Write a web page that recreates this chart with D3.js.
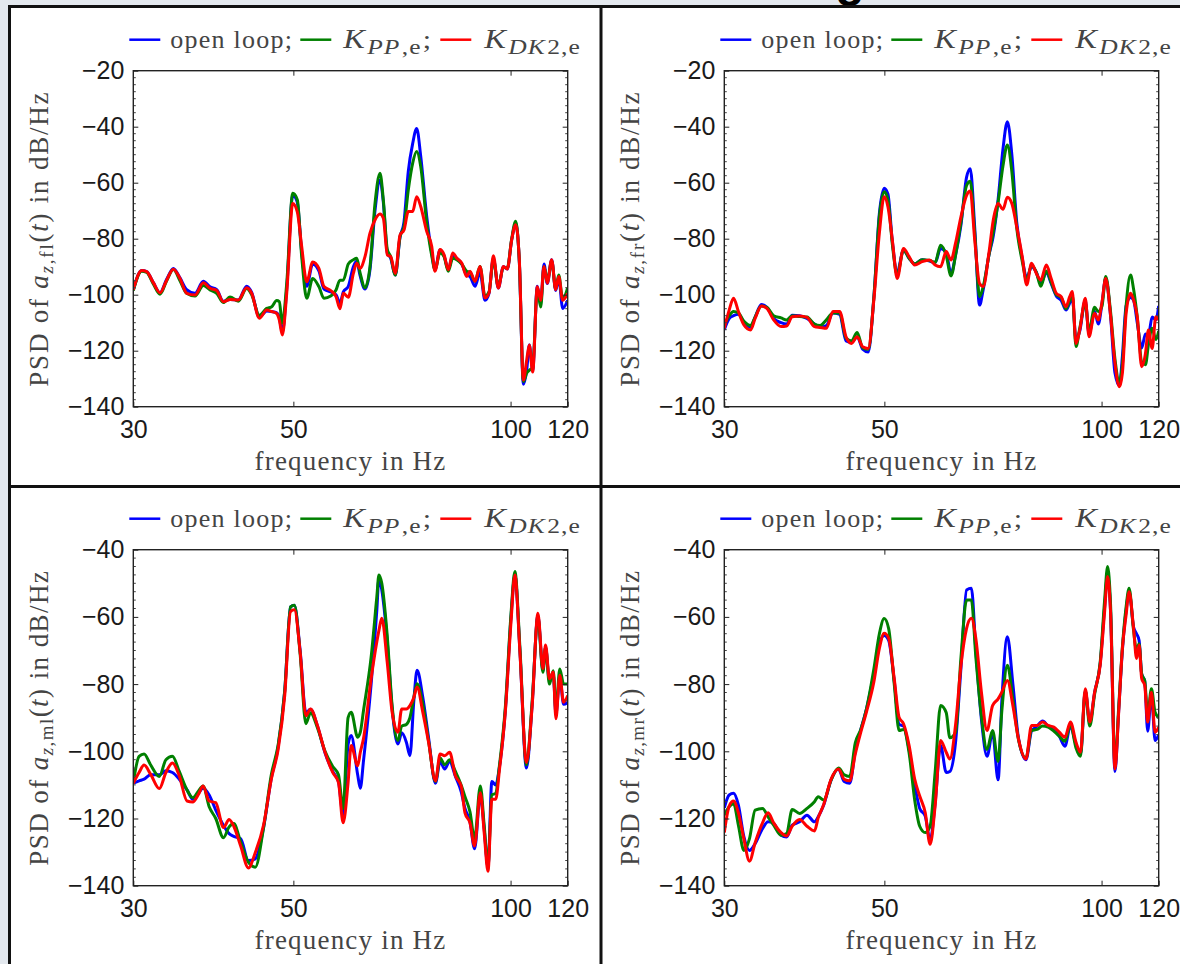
<!DOCTYPE html>
<meta charset="utf-8">
<head>
<style>
 body { margin: 0; background: #e3e8ee; overflow: hidden; }
 svg { display: block; }
 .serif { font-family: "Liberation Serif", "Times New Roman", serif; fill: #444; }
 .ticklab { font-family: "Liberation Sans", Arial, sans-serif; font-size: 25px; fill: #1a1a1a; }
</style>
</head>
<body>
<script src="https://d3js.org/d3.v7.min.js"></script>
<script>
 // ---- data (frequency in Hz, PSD in dB/Hz) ----
 // panel a_z,fl (top left)
 const fTL = [30.0, 30.81, 31.31, 31.98, 32.67, 33.37, 34.09, 34.82, 35.57, 36.53,
     37.51, 38.32, 39.15, 39.98, 40.85, 41.94, 43.08, 43.77, 44.85, 45.92,
     46.66, 47.41, 47.8, 48.26, 48.95, 49.9, 50.63, 51.35, 52.18, 53.18,
     54.24, 55.13, 56.33, 57.29, 58.02, 58.64, 59.58, 60.55, 61.2, 61.84,
     62.84, 63.85, 64.88, 65.92, 66.63, 67.48, 68.21, 69.22, 70.27, 71.17,
     72.15, 73.17, 74.11, 75.07, 76.52, 77.75, 78.57, 79.84, 80.86, 81.98,
     83.14, 84.2, 85.56, 86.94, 87.86, 89.27, 90.71, 92.17, 93.35, 94.66,
     96.16, 97.73, 98.96, 100.36, 101.65, 102.83, 104.17, 105.28, 106.16, 107.32,
     108.9, 110.09, 111.26, 112.43, 114.02, 115.49, 116.6, 118.1, 120];
 const olTL = [-98.3, -91.4, -91.8, -95.7, -99.3, -94.5, -90.6, -94.0, -98.2, -99.5,
     -95.2, -97.2, -98.2, -102.3, -101.7, -101.9, -97.0, -99.2, -108.0, -105.8,
     -106.0, -106.5, -108.0, -113.5, -98.0, -64.5, -67.0, -85.0, -97.0, -89.0,
     -91.5, -98.0, -99.0, -100.0, -103.0, -99.0, -97.0, -90.0, -88.0, -93.0,
     -98.0, -91.0, -70.0, -59.0, -67.0, -85.0, -87.0, -93.0, -79.5, -74.0,
     -56.0, -46.0, -40.6, -50.5, -72.0, -85.0, -91.0, -84.0, -86.0, -91.0,
     -86.0, -87.0, -89.0, -93.0, -93.5, -97.0, -92.0, -102.0, -99.5, -87.0,
     -97.6, -90.0, -90.8, -80.4, -74.5, -88.0, -132.0, -127.0, -118.0, -127.0,
     -97.0, -103.0, -89.0, -96.0, -87.5, -98.5, -94.0, -104.9, -102.0];
 const ppTL = [-98.5, -91.6, -92.0, -96.2, -99.8, -95.0, -91.0, -95.0, -99.5, -100.5,
     -96.7, -98.3, -99.5, -102.8, -100.8, -102.3, -97.8, -100.0, -107.3, -104.9,
     -104.3, -102.1, -102.5, -110.2, -96.0, -63.8, -66.1, -86.4, -101.3, -94.2,
     -97.1, -101.3, -100.5, -98.3, -94.8, -94.8, -89.0, -87.5, -87.0, -92.0,
     -97.5, -90.0, -67.4, -56.6, -66.2, -83.9, -86.4, -93.0, -79.3, -75.7,
     -62.6, -53.0, -48.9, -54.2, -74.3, -86.0, -91.2, -85.0, -86.4, -91.6,
     -87.0, -87.5, -89.0, -91.6, -92.0, -95.2, -89.9, -100.5, -99.0, -87.5,
     -97.0, -90.2, -90.5, -80.0, -73.8, -88.0, -131.0, -128.0, -127.0, -126.0,
     -98.0, -104.4, -90.0, -95.0, -88.0, -98.0, -93.0, -101.5, -97.5];
 const dkTL = [-98.3, -91.4, -91.8, -95.7, -99.3, -94.8, -90.9, -94.2, -99.5, -100.1,
     -95.7, -97.7, -98.5, -102.5, -101.7, -101.9, -97.5, -99.5, -108.4, -105.5,
     -106.0, -106.7, -109.0, -114.4, -99.5, -67.4, -70.4, -82.9, -95.4, -88.3,
     -90.6, -97.1, -98.5, -100.7, -105.0, -99.5, -100.9, -92.4, -88.8, -90.6,
     -86.4, -78.0, -73.3, -71.2, -72.7, -85.8, -86.4, -92.4, -78.7, -76.9,
     -70.3, -70.3, -65.0, -68.5, -77.4, -82.7, -91.6, -83.9, -85.7, -91.1,
     -85.1, -86.9, -88.7, -93.5, -91.6, -95.2, -89.9, -101.2, -99.4, -86.1,
     -97.6, -89.9, -90.8, -80.4, -75.0, -87.5, -130.5, -123.3, -118.0, -127.6,
     -97.2, -102.0, -89.9, -95.9, -87.5, -98.2, -93.5, -102.0, -99.5];

 // panel a_z,fr (top right)
 const fTR = [30.0, 30.47, 30.9, 31.38, 31.94, 32.63, 33.1, 33.77, 34.37, 35.12,
     35.96, 36.6, 37.26, 38.15, 39.06, 40.0, 40.72, 41.55, 42.44, 43.35,
     44.24, 45.03, 45.84, 46.66, 47.49, 48.35, 49.21, 49.97, 50.57, 51.29,
     52.09, 53.15, 54.11, 55.08, 56.4, 57.75, 58.79, 59.83, 60.91, 61.85,
     62.74, 63.85, 65.0, 65.77, 66.71, 67.75, 68.56, 69.79, 70.78, 71.88,
     73.0, 74.04, 75.1, 76.27, 77.63, 78.75, 79.97, 81.21, 82.36, 83.84,
     85.14, 86.56, 87.9, 89.27, 90.33, 91.09, 92.17, 93.27, 94.94, 96.07,
     97.8, 98.96, 100.15, 101.34, 102.9, 104.37, 105.86, 106.87, 108.15, 109.7,
     110.75, 112.06, 113.66, 115.03, 116.12, 117.51, 118.91, 120];
 const olTR = [-112.5, -108.5, -107.5, -107, -110, -111.5, -108, -103.5, -104.5, -108.5,
     -110, -110.5, -107.3, -107.5, -108.5, -110.5, -111.5, -111, -106.5, -107,
     -116.5, -117, -115, -119.5, -120.5, -101, -71, -62, -64, -81,
     -92, -84, -87, -89, -87.5, -88, -88.5, -83.5, -85, -92.5,
     -86, -75, -58, -55, -76, -103.7, -98, -86, -79, -66,
     -48, -38.2, -50, -74, -87, -94, -90, -92, -96, -92,
     -96, -100.5, -102, -105.5, -103, -101, -116, -113, -102, -114,
     -106, -110.5, -103, -94, -107.5, -128, -132.5, -122, -104, -101,
     -102, -110, -119, -114, -114.5, -108, -109, -104];
 const ppTR = [-111, -107.5, -106, -106.5, -109.5, -111, -108, -104, -104.5, -107.5,
     -108.3, -109, -107.5, -107.8, -108, -110.5, -111, -109, -106.5, -106.5,
     -115.5, -116.5, -113.5, -119, -119.5, -101, -72, -63.2, -66, -82,
     -93, -84, -87, -89, -87.5, -87.8, -88.5, -82.3, -86, -93.3,
     -86, -74, -61, -59.5, -78, -100.7, -97, -86, -77.5, -67,
     -54, -46.5, -56, -76, -88, -94.8, -89.5, -92, -97, -91.5,
     -95.5, -100, -101, -105, -102, -100, -118.5, -112, -103, -113,
     -104.5, -106, -104, -93.5, -106, -123, -131, -125, -104, -93,
     -98, -108, -124, -125, -118, -112, -116, -113];
 const dkTR = [-112, -105.5, -101.3, -106, -110.8, -112.6, -108.5, -104, -104.9, -109,
     -111.4, -111.2, -107.9, -107.6, -108.1, -111.4, -111.7, -112, -106, -106,
     -115, -117.4, -115, -118.6, -119.2, -101.9, -78, -65, -68.6, -80.5,
     -94.2, -83.5, -86.4, -89.4, -88.2, -87.6, -89.4, -90, -84.6, -87.6,
     -81.7, -72.1, -64.5, -63, -80.5, -96, -97.1, -85.2, -73.3, -67.4,
     -69.5, -65.2, -67.4, -75.7, -86.4, -96.5, -88.8, -92.4, -94.8, -89.4,
     -94.2, -99.5, -100.7, -104.3, -100.7, -98.9, -117.4, -112.6, -101.3, -115,
     -106.7, -109, -102.5, -94.2, -107.3, -124.5, -132.9, -128, -106.7, -99.5,
     -101.9, -107.9, -125.7, -121, -112.6, -119.2, -107.9, -109];

 // panel a_z,ml (bottom left)
 const fBL = [30.0, 30.56, 31.05, 31.7, 32.6, 33.29, 33.99, 34.74, 35.61, 36.27,
     36.94, 37.48, 38.22, 39.03, 40.0, 40.73, 41.34, 42.26, 43.31, 44.27,
     45.48, 46.6, 47.64, 48.64, 49.55, 50.16, 51.09, 52.04, 52.81, 53.99,
     55.32, 56.69, 57.74, 58.6, 59.54, 60.13, 61.39, 61.91, 62.53, 64.08,
     65.26, 65.7, 66.3, 67.45, 68.53, 69.8, 70.66, 71.71, 72.53, 73.44,
     74.2, 75.58, 76.98, 78.69, 79.86, 81.04, 82.32, 83.86, 85.41, 86.46,
     87.85, 89.15, 90.8, 91.92, 93.05, 94.2, 95.36, 96.54, 98.33, 100.15,
     101.39, 103.02, 105.19, 107.14, 109.12, 110.87, 111.82, 113.2, 114.59, 115.58,
     117.0, 118.45, 120];
 const olBL = [-109.5, -108.8, -108.3, -107.0, -107.0, -105.8, -106.3, -108.3, -111.5, -114.3,
     -112.5, -111.0, -113.0, -117.5, -122.0, -124.5, -125.3, -126.0, -132.5, -132.0,
     -122.5, -108.0, -98.5, -82.0, -57.0, -56.5, -70.0, -88.5, -87.5, -92.5,
     -100.5, -106.0, -109.0, -119.0, -98.0, -95.3, -107.0, -111.0, -103.0, -80.0,
     -58.0, -48.5, -52.0, -67.0, -87.4, -97.8, -94.5, -97.3, -101.3, -85.0,
     -75.9, -84.0, -96.0, -109.5, -103.0, -105.3, -103.0, -107.5, -112.0, -117.0,
     -121.0, -129.0, -113.0, -123.0, -134.5, -109.0, -110.0, -104.5, -88.0, -60.0,
     -47.5, -70.0, -105.0, -86.0, -59.5, -76.0, -69.0, -79.0, -77.0, -89.0,
     -78.0, -86.0, -85.5];
 const ppBL = [-109.3, -101.5, -100.8, -104.0, -107.5, -102.5, -101.5, -106.0, -111.5, -113.8,
     -111.8, -110.3, -116.5, -120.0, -125.7, -122.5, -121.5, -127.0, -133.0, -134.5,
     -122.5, -107.0, -98.0, -82.0, -57.0, -56.5, -71.0, -91.8, -88.5, -93.0,
     -100.0, -104.5, -107.0, -117.0, -90.0, -88.4, -95.8, -94.3, -88.0, -72.0,
     -54.0, -47.5, -50.0, -65.4, -86.5, -96.8, -92.5, -92.0, -90.0, -84.0,
     -79.9, -86.0, -97.0, -109.0, -102.0, -104.0, -102.5, -106.0, -110.0, -113.5,
     -118.0, -126.0, -110.3, -122.0, -134.0, -113.0, -112.5, -104.0, -87.0, -59.0,
     -46.5, -69.0, -104.0, -85.0, -60.0, -76.5, -69.0, -80.0, -76.0, -88.0,
     -75.5, -80.0, -80.0];
 const dkBL = [-109.5, -106.3, -104.1, -106.8, -111.1, -106.3, -103.5, -107.3, -114.8, -115.1,
     -112.8, -110.3, -114.8, -115.3, -122.7, -120.3, -122.3, -128.2, -134.7, -130.2,
     -121.8, -108.3, -99.3, -83.4, -58.4, -57.9, -70.4, -89.4, -87.4, -92.3,
     -100.3, -106.3, -109.3, -121.3, -109.3, -98.3, -104.3, -100.3, -96.3, -78.4,
     -67.4, -64.0, -60.4, -73.4, -88.4, -94.3, -87.4, -87.4, -86.4, -84.0,
     -80.9, -88.4, -97.3, -108.8, -100.8, -101.3, -100.3, -107.3, -110.3, -118.3,
     -121.3, -128.2, -112.3, -124.2, -135.7, -114.3, -114.3, -105.3, -88.4, -61.4,
     -47.5, -70.4, -103.3, -86.4, -58.9, -75.4, -68.4, -78.4, -76.4, -90.3,
     -77.4, -85.4, -83.4];

 // panel a_z,mr (bottom right)
 const fBR = [30.0, 30.47, 30.9, 31.38, 31.94, 32.51, 33.1, 33.89, 34.5, 35.12,
     35.96, 36.6, 37.26, 38.15, 39.06, 40.0, 40.48, 41.2, 42.19, 43.2,
     43.98, 44.76, 45.57, 46.38, 47.21, 48.35, 49.21, 49.97, 50.69, 51.6,
     52.41, 53.15, 54.11, 55.08, 55.97, 56.97, 57.86, 58.79, 59.83, 60.91,
     61.62, 62.74, 63.85, 65.0, 66.0, 66.95, 68.15, 69.38, 70.62, 71.88,
     72.74, 74.04, 75.35, 76.7, 78.56, 79.97, 81.41, 82.84, 84.33, 85.85,
     87.38, 88.95, 90.54, 92.17, 93.49, 94.94, 96.3, 97.8, 99.56, 100.98,
     101.94, 102.9, 104.37, 105.61, 106.87, 108.15, 109.19, 110.75, 111.81, 112.73,
     113.66, 114.76, 115.85, 117.24, 118.63, 120];
 const olBR = [-116.8, -113, -112.5, -116, -125.5, -129.5, -127.5, -123, -121, -121.5,
     -125, -125.5, -122, -121, -119, -121, -119.5, -116, -108.5, -105.3,
     -109, -109.5, -100, -93.5, -87.5, -77, -68, -65.5, -67, -79,
     -92, -92.5, -99.5, -110, -117, -119.3, -126.5, -115.5, -98.3, -106.3,
     -106, -97.5, -75, -52, -51.5, -70, -90.5, -101.5, -94.5, -108.5,
     -85, -65.9, -80, -96, -102.5, -94, -92.5, -91, -92.5, -93.5,
     -95.5, -98.5, -92.5, -98, -101, -82, -91.5, -82.5, -74, -57,
     -47.5, -58, -106, -88, -70, -58, -52.5, -63, -65, -67,
     -77, -79, -94, -83, -96.8, -95];
 const ppBR = [-119, -116.5, -115.5, -122, -129.5, -126, -117.5, -117, -119.5, -122,
     -125, -124.5, -117.3, -118.5, -117, -115, -113.5, -114.5, -108.5, -105,
     -107, -107.5, -97.5, -93.5, -87.5, -75.5, -65, -60.5, -63.5, -80,
     -93.8, -93.5, -100.5, -114.5, -122.3, -124.2, -122.3, -106.3, -86.4, -88.5,
     -96, -94.5, -72, -55, -55, -72, -89.5, -99.5, -93.8, -103,
     -88, -74.4, -84.5, -96.5, -102, -93.8, -93.5, -92.5, -92.8, -94,
     -95.5, -97, -92, -99, -101.5, -82, -92.5, -83, -73.5, -55,
     -45, -56, -104, -87, -69, -57, -51.5, -64, -70, -68,
     -77, -79, -89, -81.4, -88.4, -90];
 const dkBR = [-124.2, -116.3, -114.8, -118.3, -126.2, -132.7, -127.2, -121.3, -118.3, -121.3,
     -124.2, -125.2, -122.3, -120.3, -122.3, -123.7, -119.8, -115.8, -108.3, -105.3,
     -108.3, -108.8, -100.8, -94.3, -88.4, -79.4, -69.4, -64.9, -66.4, -78.4,
     -89.9, -91.8, -98.3, -108.3, -113.3, -118.3, -127.7, -116.3, -96.8, -100.3,
     -102.3, -92.3, -74.4, -63.4, -60.4, -66.4, -82.4, -93.8, -86.4, -84.4,
     -82.4, -78.9, -86.4, -96.3, -102.3, -92.3, -92.3, -91.3, -92.3, -92.8,
     -94.3, -95.8, -91.3, -97.3, -100.3, -81.4, -91.3, -82.4, -74.4, -58.4,
     -48.0, -58.4, -105.3, -88.4, -69.4, -59.4, -52.5, -63.4, -72.4, -68.4,
     -78.4, -80.4, -91.3, -82.4, -94.3, -92.8];

 const xTicks = [30, 50, 100, 120];
 const yTicksTop = [-20, -40, -60, -80, -100, -120, -140];
 const yTicksBottom = [-40, -60, -80, -100, -120, -140];
 const seriesColors = ["#0000ff", "#008000", "#ff0000"];

 const panels = [
     {col: 0, row: 0, sub: "fl", yTicks: yTicksTop, f: fTL, s: [olTL, ppTL, dkTL]},
     {col: 1, row: 0, sub: "fr", yTicks: yTicksTop, f: fTR, s: [olTR, ppTR, dkTR]},
     {col: 0, row: 1, sub: "ml", yTicks: yTicksBottom, f: fBL, s: [olBL, ppBL, dkBL]},
     {col: 1, row: 1, sub: "mr", yTicks: yTicksBottom, f: fBR, s: [olBR, ppBR, dkBR]}
 ];

 const W = 1180, H = 964;
 const pw = 434.4, ph = 336;

 // stretch a serif text to the width it has in the reference (its font is wider)
 function fitWidth(t, target) {
     t.style("letter-spacing", "0px");
     const n = t.text().length;
     const w = t.node().getComputedTextLength();
     t.style("letter-spacing", Math.max(0, (target - w) / n) + "px");
 }

 const svg = d3.select("body").append("svg")
               .attr("width", W)
               .attr("height", H);

 // white page behind the panel grid
 svg.append("rect").attr("x", 9.5).attr("y", 6.5)
    .attr("width", W).attr("height", H).attr("fill", "#fff");

 // bottom of the cut-off page title
 svg.append("text").attr("x", 850).attr("y", -4)
    .attr("text-anchor", "middle")
    .style("font", "bold 48px 'Liberation Sans', Arial, sans-serif")
    .text("g");

 panels.forEach((p, pi) => {
     const x0 = 133.3 + p.col * 591, y0 = 70.7 + p.row * 479;
     const g = svg.append("g").attr("transform", `translate(${x0},${y0})`);

     const x = d3.scaleLog().domain([30, 120]).range([0, pw]);
     const yd = d3.extent(p.yTicks);
     const y = d3.scaleLinear().domain(yd).range([ph, 0]);

     g.append("clipPath").attr("id", "clip" + pi)
      .append("rect").attr("width", pw).attr("height", ph);

     const line = d3.line()
                    .x((d, i) => x(p.f[i]))
                    .y(d => y(d))
                    .curve(d3.curveMonotoneX);

     p.s.forEach((vals, k) => {
         g.append("path")
          .datum(vals)
          .attr("clip-path", `url(#clip${pi})`)
          .attr("fill", "none")
          .attr("stroke", seriesColors[k])
          .attr("stroke-width", 3)
          .attr("stroke-linejoin", "round")
          .attr("d", line);
     });

     // minor y ticks
     const minor = d3.range(yd[0], yd[1], 2.5).filter(v => v % 20 !== 0);
     g.append("g").attr("stroke", "#444").attr("stroke-width", 1)
      .selectAll("path").data(minor).join("path")
      .attr("d", v => `M0,${y(v)}h2.5M${pw},${y(v)}h-2.5`);

     const fmt = d3.format("d");
     const axB = g.append("g").attr("transform", `translate(0,${ph})`)
                  .call(d3.axisBottom(x).tickValues(xTicks).tickFormat(fmt)
                          .tickSizeInner(-5).tickSizeOuter(0).tickPadding(14));
     const axT = g.append("g")
                  .call(d3.axisTop(x).tickValues(xTicks.slice(1, 3)).tickFormat("")
                          .tickSizeInner(-5).tickSizeOuter(0));
     const axL = g.append("g")
                  .call(d3.axisLeft(y).tickValues(p.yTicks).tickFormat(fmt)
                          .tickSizeInner(-5).tickSizeOuter(0).tickPadding(9));
     const axR = g.append("g").attr("transform", `translate(${pw},0)`)
                  .call(d3.axisRight(y).tickValues(p.yTicks).tickFormat("")
                          .tickSizeInner(-5).tickSizeOuter(0));
     [axB, axT, axL, axR].forEach(a => {
         a.select(".domain").remove();
         a.attr("color", "#222").attr("font-size", null).attr("font-family", null);
         a.selectAll("text").attr("class", "ticklab");
     });

     g.append("rect").attr("width", pw).attr("height", ph)
      .attr("fill", "none").attr("stroke", "#222").attr("stroke-width", 1.4);

     // x label
     const xl = g.append("text").attr("class", "serif")
                 .attr("x", pw / 2).attr("y", ph + 63)
                 .attr("text-anchor", "middle")
                 .style("font-size", "27px")
                 .text("frequency in Hz");
     fitWidth(xl, 192);

     // y label
     const yl = g.append("text").attr("class", "serif")
                 .attr("transform", `translate(-85,${ph / 2}) rotate(-90)`)
                 .attr("text-anchor", "middle")
                 .style("font-size", "27px");
     yl.append("tspan").text("PSD of ");
     yl.append("tspan").style("font-style", "italic").text("a");
     yl.append("tspan").attr("dy", 5).style("font-size", "19px").style("font-style", "italic").text("z");
     yl.append("tspan").style("font-size", "19px").text("," + p.sub);
     yl.append("tspan").attr("dy", -5).text("(");
     yl.append("tspan").style("font-style", "italic").text("t");
     yl.append("tspan").text(") in dB/Hz");
     fitWidth(yl, 296);

     // legend: sample line + label; math labels are widened a little, like the wider math font
     const ly = -31, lb = -23;
     const lg = g.append("g");
     const legendItems = [
         {ls: -4, ts: 37, tw: 123, parts: [["open loop;", 26, false, 0, 0]]},
         {ls: 167, ts: 210, tw: 89, parts: [["K", 28, true, 0, 0], ["PP", 22, true, 6, 2],
                                             [",e", 22, false, 0, 1], [";", 26, false, -6, 1]]},
         {ls: 307, ts: 351, tw: 98, parts: [["K", 28, true, 0, 0], ["DK", 22, true, 6, 2],
                                             ["2,e", 22, false, 0, 1]]}
     ];
     legendItems.forEach((it, k) => {
         lg.append("line").attr("x1", it.ls).attr("x2", it.ls + 31)
           .attr("y1", ly).attr("y2", ly)
           .attr("stroke", seriesColors[k]).attr("stroke-width", 2.5);
         const tg = lg.append("g").attr("transform", `translate(${it.ts},${lb})`);
         const t = tg.append("text").attr("class", "serif");
         it.parts.forEach(([str, fs, ital, dy, dx]) => {
             t.append("tspan").attr("dy", dy).attr("dx", dx)
              .style("font-size", fs + "px")
              .style("font-style", ital ? "italic" : "normal")
              .style("letter-spacing", fs < 26 ? "1px" : null)
              .text(str);
         });
         if (k === 0) {
             fitWidth(t, it.tw);
         } else {
             const w = t.node().getBBox().width;
             const sx = Math.min(1.25, it.tw / w);
             tg.attr("transform", `translate(${it.ts},${lb}) scale(${sx},1)`);
         }
     });
 });

 // panel grid lines
 const border = svg.append("g").attr("stroke", "#111").attr("stroke-width", 3);
 border.append("line").attr("x1", 8).attr("x2", W).attr("y1", 6.5).attr("y2", 6.5);
 border.append("line").attr("x1", 9.5).attr("x2", 9.5).attr("y1", 5).attr("y2", H);
 border.append("line").attr("x1", 601).attr("x2", 601).attr("y1", 5).attr("y2", H);
 border.append("line").attr("x1", 8).attr("x2", W).attr("y1", 486.5).attr("y2", 486.5);
</script>
</body>
